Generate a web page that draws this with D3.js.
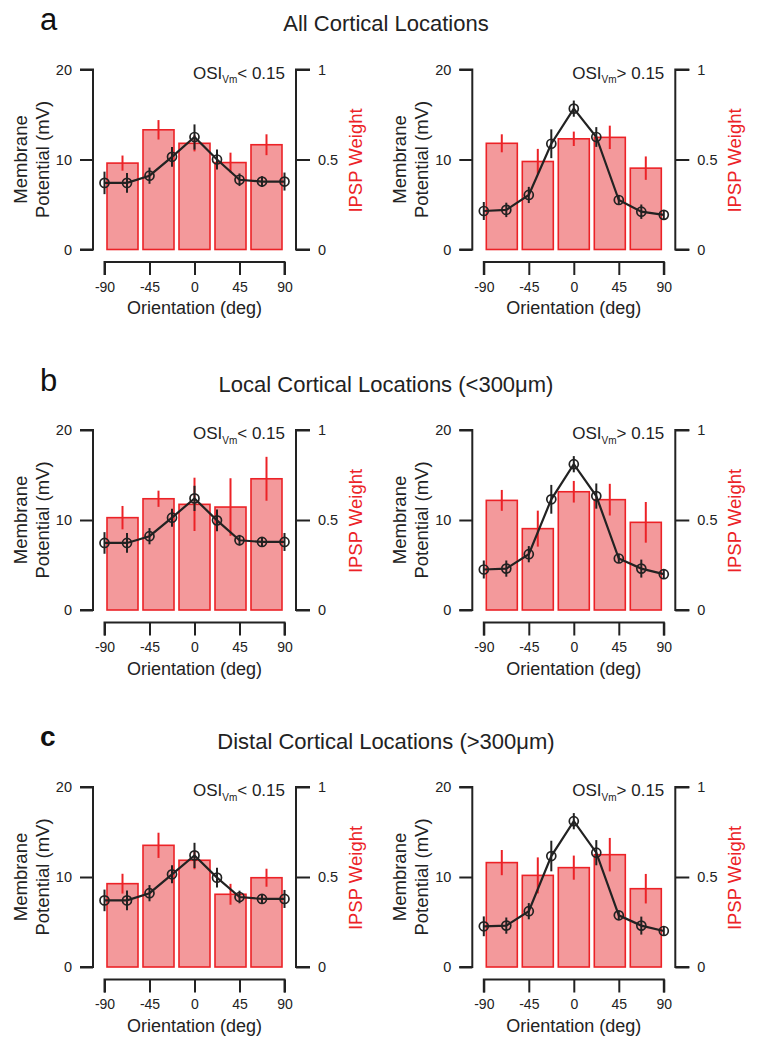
<!DOCTYPE html>
<html>
<head>
<meta charset="utf-8">
<script src="https://cdn.jsdelivr.net/npm/d3@7"></script>
<style>
  body { margin: 0; background: #fff; }
  svg { display: block; }
  text { font-family: "Liberation Sans", Arial, Helvetica, sans-serif; }
</style>
</head>
<body>
<svg id="chart" width="757" height="1050"></svg>
<script>
// ---------- data ----------
const orientations = [-90, -67.5, -45, -22.5, 0, 22.5, 45, 67.5, 90];
const barOrientations = [-72, -36, 0, 36, 72];
const xTicks = [-90, -45, 0, 45, 90];
const vmTicks = [0, 10, 20];
const ipspTicks = [0, 0.5, 1];

const rowTitles = ["All Cortical Locations", "Local Cortical Locations (<300\u03bcm)", "Distal Cortical Locations (>300\u03bcm)"];
const rowLetters = ["a", "b", "c"];
const osiLabels = ["< 0.15", "> 0.15"];

// Row a
const vmAllLow = [7.4, 7.4, 8.2, 10.3, 12.5, 10.0, 7.75, 7.55, 7.55];
const vmAllLowErr = [1.25, 1.1, 0.9, 1.1, 1.4, 1.1, 0.7, 0.6, 1.0];
const ipspAllLow = [0.48, 0.665, 0.59, 0.483, 0.582];
const ipspAllLowErr = [0.042, 0.054, 0.045, 0.055, 0.058];

const vmAllHigh = [4.28, 4.4, 6.06, 11.75, 15.65, 12.5, 5.5, 4.2, 3.85];
const vmAllHighErr = [1.0, 0.8, 0.9, 1.6, 0.9, 1.1, 0.5, 0.8, 0.5];
const ipspAllHigh = [0.59, 0.489, 0.615, 0.623, 0.452];
const ipspAllHighErr = [0.05, 0.07, 0.04, 0.065, 0.065];

// Row b
const vmLocalLow = [7.45, 7.45, 8.2, 10.26, 12.4, 9.96, 7.75, 7.56, 7.56];
const vmLocalLowErr = [1.2, 1.1, 0.9, 1.0, 1.4, 1.2, 0.6, 0.5, 1.0];
const ipspLocalLow = [0.513, 0.618, 0.587, 0.572, 0.729];
const ipspLocalLowErr = [0.065, 0.045, 0.148, 0.16, 0.122];

const vmLocalHigh = [4.5, 4.6, 6.2, 12.3, 16.2, 12.66, 5.72, 4.6, 3.98];
const vmLocalHighErr = [1.0, 0.9, 0.9, 1.6, 0.9, 1.4, 0.5, 1.0, 0.5];
const ipspLocalHigh = [0.609, 0.452, 0.657, 0.613, 0.487];
const ipspLocalHighErr = [0.058, 0.1, 0.06, 0.088, 0.113];

// Row c
const vmDistalLow = [7.4, 7.4, 8.2, 10.3, 12.4, 9.93, 7.78, 7.56, 7.56];
const vmDistalLowErr = [1.2, 1.1, 0.9, 1.0, 1.4, 1.1, 0.7, 0.5, 1.0];
const ipspDistalLow = [0.463, 0.676, 0.593, 0.404, 0.496];
const ipspDistalLowErr = [0.055, 0.07, 0.05, 0.058, 0.05];

const vmDistalHigh = [4.52, 4.6, 6.2, 12.33, 16.2, 12.7, 5.74, 4.6, 4.0];
const vmDistalHighErr = [1.1, 0.9, 0.9, 1.7, 0.9, 1.4, 0.5, 1.0, 0.5];
const ipspDistalHigh = [0.58, 0.509, 0.552, 0.624, 0.435];
const ipspDistalHighErr = [0.07, 0.1, 0.067, 0.093, 0.082];

const panels = [
  {row: 0, col: 0, vm: vmAllLow, vmErr: vmAllLowErr, ipsp: ipspAllLow, ipspErr: ipspAllLowErr},
  {row: 0, col: 1, vm: vmAllHigh, vmErr: vmAllHighErr, ipsp: ipspAllHigh, ipspErr: ipspAllHighErr},
  {row: 1, col: 0, vm: vmLocalLow, vmErr: vmLocalLowErr, ipsp: ipspLocalLow, ipspErr: ipspLocalLowErr},
  {row: 1, col: 1, vm: vmLocalHigh, vmErr: vmLocalHighErr, ipsp: ipspLocalHigh, ipspErr: ipspLocalHighErr},
  {row: 2, col: 0, vm: vmDistalLow, vmErr: vmDistalLowErr, ipsp: ipspDistalLow, ipspErr: ipspDistalLowErr},
  {row: 2, col: 1, vm: vmDistalHigh, vmErr: vmDistalHighErr, ipsp: ipspDistalHigh, ipspErr: ipspDistalHighErr}
];

// ---------- layout ----------
const rowTop = [69.5, 430, 787];
const plotH = 180;
const colLeftAxis = [93, 472.3];
const xStart = 11.5, xEnd = 191.5, rightAxisOff = 203;
const dark = "#222";
const red = "#ec2227";
const barFill = "#f3999b";
const fontStack = '"Liberation Sans", Arial, sans-serif';

const svg = d3.select("#chart");

// row titles and letters
rowTitles.forEach((t, i) => {
  svg.append("text").attr("x", 386).attr("y", rowTop[i] - 38.5)
    .attr("text-anchor", "middle").attr("font-size", 22).attr("fill", dark).text(t);
});
const letterY = [30, 391, 746];
const letterSize = [31, 31, 28];
rowLetters.forEach((l, i) => {
  svg.append("text").attr("x", 40).attr("y", letterY[i])
    .attr("font-size", letterSize[i]).attr("font-weight", i === 2 ? "bold" : "normal")
    .attr("fill", "#111").text(l);
});

panels.forEach(p => {
  const x0 = colLeftAxis[p.col];
  const top = rowTop[p.row];
  const bottom = top + plotH;
  const g = svg.append("g");

  const x = d3.scaleLinear().domain([-90, 90]).range([x0 + xStart, x0 + xEnd]);
  const yVm = d3.scaleLinear().domain([0, 20]).range([bottom, top]);
  const yIp = d3.scaleLinear().domain([0, 1]).range([bottom, top]);

  // bars
  const barW = x(31) - x(0);
  g.selectAll("rect.bar").data(p.ipsp).enter().append("rect")
    .attr("x", (d, i) => x(barOrientations[i]) - barW / 2)
    .attr("y", d => yIp(d))
    .attr("width", barW)
    .attr("height", d => yIp(0) - yIp(d))
    .attr("fill", barFill).attr("stroke", red).attr("stroke-width", 1.6);

  // red error bars
  g.selectAll("line.ipe").data(p.ipsp).enter().append("line")
    .attr("x1", (d, i) => x(barOrientations[i])).attr("x2", (d, i) => x(barOrientations[i]))
    .attr("y1", (d, i) => yIp(d - p.ipspErr[i])).attr("y2", (d, i) => yIp(d + p.ipspErr[i]))
    .attr("stroke", red).attr("stroke-width", 2);

  // Vm error bars
  g.selectAll("line.vme").data(p.vm).enter().append("line")
    .attr("x1", (d, i) => x(orientations[i])).attr("x2", (d, i) => x(orientations[i]))
    .attr("y1", (d, i) => yVm(d - p.vmErr[i])).attr("y2", (d, i) => yVm(d + p.vmErr[i]))
    .attr("stroke", dark).attr("stroke-width", 2);

  // Vm line
  const line = d3.line().x((d, i) => x(orientations[i])).y(d => yVm(d));
  g.append("path").datum(p.vm).attr("d", line)
    .attr("fill", "none").attr("stroke", dark).attr("stroke-width", 2.2);

  // circles
  g.selectAll("circle").data(p.vm).enter().append("circle")
    .attr("cx", (d, i) => x(orientations[i])).attr("cy", d => yVm(d)).attr("r", 4.5)
    .attr("fill", "none").attr("stroke", dark).attr("stroke-width", 1.7);

  // left axis
  const leftAxis = d3.axisLeft(yVm).tickValues(vmTicks).tickSize(13).tickPadding(8).tickFormat(d => String(d));
  const la = g.append("g").attr("transform", `translate(${x0},0)`).call(leftAxis);
  la.select(".domain").attr("d", `M-13,${top}H0V${bottom}H-13`).attr("stroke", dark).attr("stroke-width", 2);
  la.selectAll(".tick line").attr("stroke", dark).attr("stroke-width", 2);
  la.selectAll(".tick text").attr("font-size", 14.5).attr("fill", dark).attr("font-family", fontStack);

  // right axis
  const xr = x0 + rightAxisOff;
  const rightAxis = d3.axisRight(yIp).tickValues(ipspTicks).tickSize(14).tickPadding(8).tickFormat(d => String(d));
  const ra = g.append("g").attr("transform", `translate(${xr},0)`).call(rightAxis);
  ra.select(".domain").attr("d", `M14,${top}H0V${bottom}H14`).attr("stroke", dark).attr("stroke-width", 2);
  ra.selectAll(".tick line").attr("stroke", dark).attr("stroke-width", 2);
  ra.selectAll(".tick text").attr("font-size", 14.5).attr("fill", dark).attr("font-family", fontStack);

  // bottom axis
  const xAxisY = bottom + 12.5;
  const bottomAxis = d3.axisBottom(x).tickValues(xTicks).tickSize(13).tickPadding(7).tickFormat(d => String(d));
  const ba = g.append("g").attr("transform", `translate(0,${xAxisY})`).call(bottomAxis);
  ba.select(".domain").attr("d", `M${x(-90)},13V0H${x(90)}V13`).attr("stroke", dark).attr("stroke-width", 2);
  ba.selectAll(".tick line").attr("stroke", dark).attr("stroke-width", 2);
  ba.selectAll(".tick text").attr("font-size", 14).attr("fill", dark).attr("font-family", fontStack);

  // x axis title
  g.append("text").attr("x", x(0)).attr("y", bottom + 64.5)
    .attr("text-anchor", "middle").attr("font-size", 18).attr("fill", dark).text("Orientation (deg)");

  // left y title
  const midY = (top + bottom) / 2;
  g.append("text").attr("transform", `translate(${x0 - 66},${midY}) rotate(-90)`)
    .attr("text-anchor", "middle").attr("font-size", 18.5).attr("fill", dark).text("Membrane");
  g.append("text").attr("transform", `translate(${x0 - 44},${midY}) rotate(-90)`)
    .attr("text-anchor", "middle").attr("font-size", 18.5).attr("fill", dark).text("Potential (mV)");

  // right y title
  g.append("text").attr("transform", `translate(${xr + 66},${midY + 1}) rotate(-90)`)
    .attr("text-anchor", "middle").attr("font-size", 18.5).attr("fill", red).text("IPSP Weight");

  // OSI label
  const osi = g.append("text").attr("x", x(90) + 0.5).attr("y", top + 9)
    .attr("text-anchor", "end").attr("font-size", 17).attr("fill", dark);
  osi.append("tspan").text("OSI");
  osi.append("tspan").attr("font-size", 10).attr("dy", 4.5).text("Vm");
  osi.append("tspan").attr("dy", -4.5).text(osiLabels[p.col]);
});
</script>
</body>
</html>
